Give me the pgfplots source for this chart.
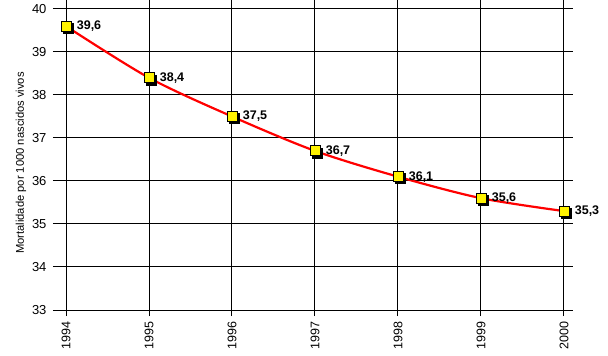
\documentclass[border=0pt]{standalone}
\usepackage{pgfplots}
\pgfplotsset{compat=1.18}
\usepackage{fontspec}
\setmainfont{Liberation Sans}
\begin{document}
\begin{tikzpicture}[x=1pt,y=1pt]
\path[use as bounding box] (-53pt,-46pt) rectangle (555pt,310pt);
\begin{axis}[
  at={(0,0)}, anchor=south west,
  scale only axis, width=520pt, height=310pt,
  xmin=1993.843, xmax=2000.108,
  ymin=33, ymax=40.209,
  axis line style={draw=none},
  grid=major,
  grid style={black, line width=1pt},
  xtick={1994,...,2000},
  ytick={33,...,40},
  tick align=outside,
  major tick length=6pt,
  xtick style={black, line width=1pt},
  ytick style={draw=none},
  xticklabel style={rotate=90, anchor=east, font=\fontsize{12.5}{14}\selectfont, xshift=-2pt},
  yticklabel style={font=\fontsize{13}{14}\selectfont, xshift=3pt},
  /pgf/number format/assume math mode=true,
  xticklabel={\pgfmathprintnumber[1000 sep={},fixed]{\tick}},
  ylabel={Mortalidade por 1000 nascidos vivos},
  ylabel style={font=\fontsize{11.2}{12}\selectfont, at={(axis description cs:-0.0615,0.474)}, anchor=center},
  clip=false,
]
\addplot[draw=none, mark=square*, mark size=5pt, mark options={fill=black, draw=black, xshift=2pt, yshift=-2pt}] coordinates {
(1994,39.6) (1995,38.4) (1996,37.5) (1997,36.7) (1998,36.1) (1999,35.6) (2000,35.3)};
\addplot[red, line width=2.2pt, smooth, mark=square*, mark size=5pt,
  mark options={fill=yellow, draw=black, line width=1pt},
  nodes near coords={\pgfmathprintnumber[fixed, fixed zerofill, precision=1, use comma]{\pgfplotspointmeta}},
  point meta=explicit,
  every node near coord/.append style={anchor=west, xshift=7pt, yshift=0pt, font=\bfseries\fontsize{12.5}{14}\selectfont, text=black}]
coordinates {
(1994,39.6) [39.6] (1995,38.4) [38.4] (1996,37.5) [37.5] (1997,36.7) [36.7] (1998,36.1) [36.1] (1999,35.6) [35.6] (2000,35.3) [35.3]};
\end{axis}
\end{tikzpicture}
\end{document}
